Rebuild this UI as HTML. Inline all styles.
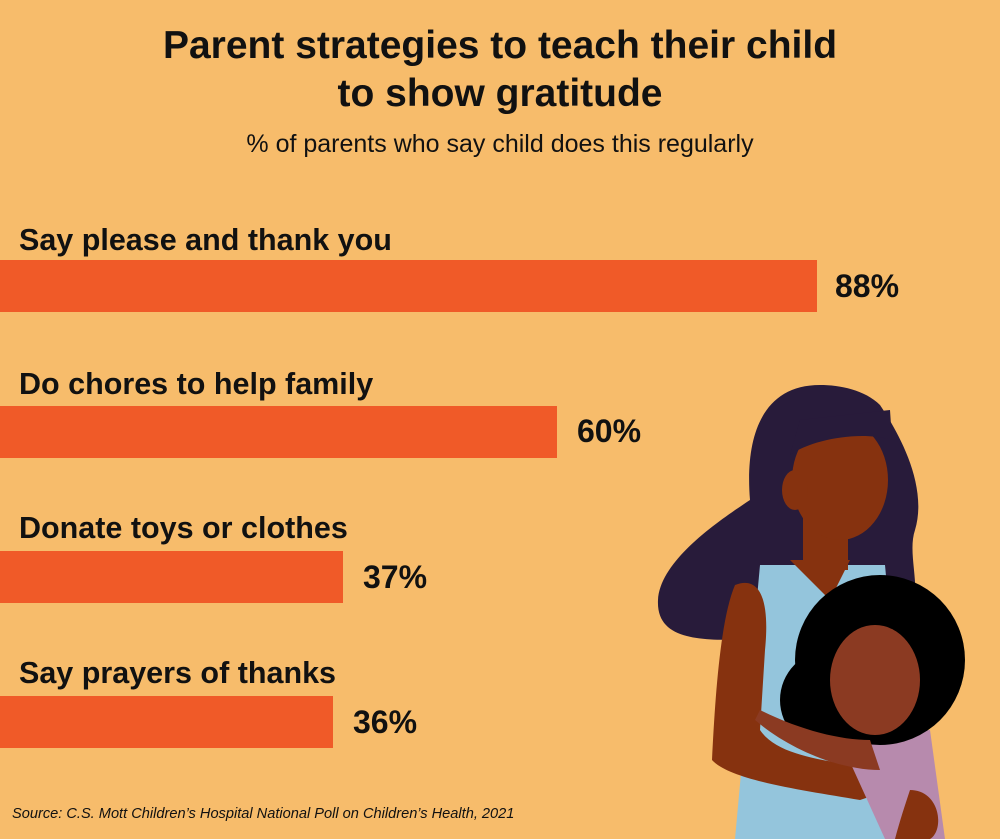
<!DOCTYPE html>
<html><head><meta charset="utf-8"><style>
body{margin:0;width:1000px;height:839px;background:#f7bc6b;position:relative;overflow:hidden;font-family:"Liberation Sans",sans-serif;color:#111}
.t{position:absolute;left:0;width:1000px;text-align:center;font-weight:bold;font-size:39px;line-height:47px}
.sub{position:absolute;left:0;width:1000px;top:130px;text-align:center;font-size:25px}
.lab{position:absolute;left:19px;font-size:30.5px;font-weight:bold}
.bar{position:absolute;left:0;height:52px;background:#f05a28}
.val{position:absolute;font-size:32px;font-weight:bold}
.src{position:absolute;left:12px;top:806px;font-size:14.6px;font-style:italic}
svg{position:absolute;left:0;top:0}
</style></head><body>
<svg width="1000" height="839">
<path d="M820 385 C760 385 745 440 750 500 C720 520 660 560 658 600 C656 640 700 640 740 640 L900 640 C930 600 905 560 915 530 C930 480 890 420 880 405 C865 390 840 385 820 385Z" fill="#281b3a"/>
<path d="M760 565 L885 565 L910 839 L735 839 Z" fill="#94c5dc"/>
<rect x="803" y="510" width="45" height="60" fill="#86320f"/>
<path d="M790 560 L850 560 L830 600 Z" fill="#86320f"/>
<ellipse cx="840" cy="480" rx="48" ry="60" fill="#86320f"/>
<path d="M790 455 C810 440 860 430 892 440 L890 410 L800 420 Z" fill="#281b3a"/>
<ellipse cx="795" cy="490" rx="13" ry="20" fill="#86320f"/>
<path d="M735 585 C760 575 770 600 765 650 L760 730 C780 760 840 760 870 770 L890 790 L860 800 C800 790 730 780 712 760 C715 700 720 620 735 585Z" fill="#86320f"/>
<path d="M840 740 L930 730 L945 839 L885 839 Z" fill="#b78aad"/>
<circle cx="880" cy="660" r="85" fill="#000"/>
<circle cx="830" cy="700" r="50" fill="#000"/>
<ellipse cx="875" cy="680" rx="45" ry="55" fill="#8b3a22"/>
<path d="M760 710 C800 730 840 740 870 740 L880 770 C840 770 790 750 755 720Z" fill="#8b3a22"/>
<path d="M910 790 C940 790 945 830 930 839 L895 839 C900 820 905 805 910 790Z" fill="#86320f"/>
</svg>
<div class="t" style="top:22px">Parent strategies to teach their child</div>
<div class="t" style="top:70px">to show gratitude</div>
<div class="sub">% of parents who say child does this regularly</div>
<div class="lab" style="top:223px">Say please and thank you</div>
<div class="bar" style="top:260px;width:817px"></div><div class="val" style="left:835px;top:268px">88%</div>
<div class="lab" style="top:367px">Do chores to help family</div>
<div class="bar" style="top:406px;width:557px"></div><div class="val" style="left:577px;top:413px">60%</div>
<div class="lab" style="top:511px">Donate toys or clothes</div>
<div class="bar" style="top:551px;width:343px"></div><div class="val" style="left:363px;top:559px">37%</div>
<div class="lab" style="top:656px">Say prayers of thanks</div>
<div class="bar" style="top:696px;width:333px"></div><div class="val" style="left:353px;top:704px">36%</div>
<div class="src">Source: C.S. Mott Children’s Hospital National Poll on Children’s Health, 2021</div>
</body></html>
